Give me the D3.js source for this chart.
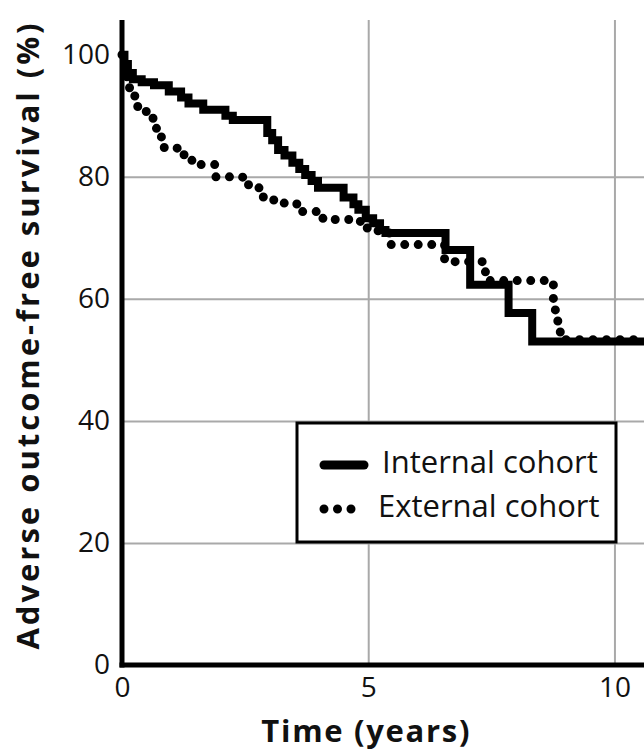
<!DOCTYPE html>
<html>
<head>
<meta charset="utf-8">
<script src="https://cdn.jsdelivr.net/npm/d3@7"></script>
<style>
  body { margin: 0; background: #fff; }
  svg { display: block; }
</style>
</head>
<body>
<script>
// Kaplan-Meier step values (time in years, survival in %)
const internalTime = [0, 0.05, 0.12, 0.22, 0.4, 0.65, 0.95, 1.2, 1.35, 1.65, 2.1, 2.25, 2.95, 3.05, 3.17, 3.3, 3.46, 3.6, 3.72, 3.85, 3.98, 4.5, 4.7, 4.8, 4.95, 5.1, 5.24, 5.35, 6.57, 7.07, 7.85, 8.33, 10.6];
const internalSurv = [100, 98.5, 97, 96, 95.5, 95, 94, 93, 92, 91, 90, 89.3, 87.2, 86, 84.4, 83.5, 82.3, 81.3, 80.3, 79.3, 78.2, 76.6, 75.5, 74.6, 73.2, 72.4, 71.3, 70.8, 68, 62.3, 57.7, 53, 53];

const externalTime = [0, 0.05, 0.1, 0.15, 0.26, 0.32, 0.45, 0.58, 0.63, 0.7, 0.8, 1.12, 1.26, 1.38, 1.42, 1.89, 2.45, 2.75, 2.8, 3.05, 3.1, 3.55, 4.08, 4.84, 4.98, 5.2, 5.45, 6.55, 7.38, 7.45, 8.76, 8.8, 8.85, 8.9, 10.6];
const externalSurv = [100, 98, 96, 94.6, 93, 91.5, 90.7, 89.8, 88.5, 86.6, 84.8, 84, 83.3, 82.8, 82, 80, 78.7, 78.2, 76.7, 76.2, 75.7, 74.3, 73, 72.1, 71.3, 70.8, 68.9, 66.1, 64.4, 63, 60, 57.9, 55.4, 53.3, 53.3];

const xTicks = [0, 5, 10];
const yTicks = [0, 20, 40, 60, 80, 100];
const xGrid = [5, 10];
const yGrid = [20, 40, 60, 80];
const seriesNames = ["Internal cohort", "External cohort"];
const xTitle = "Time (years)";
const yTitle = "Adverse outcome-free survival (%)";

const width = 644, height = 752;
const font = "'Open Sans', 'Noto Sans', sans-serif";

const x = d3.scaleLinear().domain([0, 10.6]).range([122, 644]);
const y = d3.scaleLinear().domain([0, 105.7]).range([665, 20]);

const svg = d3.select("body").append("svg")
  .attr("width", width)
  .attr("height", height)
  .attr("font-family", font);

// grid lines
svg.append("g")
  .attr("transform", `translate(0,${y(0)})`)
  .call(d3.axisBottom(x).tickValues(xGrid).tickSize(-(y(0) - y.range()[1])).tickFormat(""))
  .call(g => g.select(".domain").remove())
  .call(g => g.selectAll("line").attr("stroke", "#a9a9a9").attr("stroke-width", 2));

svg.append("g")
  .attr("transform", `translate(${x(0)},0)`)
  .call(d3.axisLeft(y).tickValues(yGrid).tickSize(-(x.range()[1] - x(0))).tickFormat(""))
  .call(g => g.select(".domain").remove())
  .call(g => g.selectAll("line").attr("stroke", "#a9a9a9").attr("stroke-width", 2));

// tick labels
svg.append("g")
  .attr("transform", `translate(0,${y(0)})`)
  .call(d3.axisBottom(x).tickValues(xTicks).tickSize(0).tickPadding(12).tickFormat(d3.format("d")))
  .call(g => g.select(".domain").remove())
  .call(g => g.selectAll("text").attr("font-size", 28).attr("font-family", font).attr("fill", "#111"));

svg.append("g")
  .attr("transform", `translate(${x(0) - 10},0)`)
  .call(d3.axisLeft(y).tickValues(yTicks).tickSize(0).tickPadding(2).tickFormat(d3.format("d")))
  .call(g => g.select(".domain").remove())
  .call(g => g.selectAll("text").attr("font-size", 28).attr("font-family", font).attr("fill", "#111"));

// curves
const line = (xs, ys) => d3.line()
  .x((d, i) => x(xs[i]))
  .y((d, i) => y(ys[i]))
  .curve(d3.curveStepAfter)(xs);

svg.append("path")
  .attr("d", line(internalTime, internalSurv))
  .attr("fill", "none")
  .attr("stroke", "#000")
  .attr("stroke-width", 8)
  .attr("stroke-linejoin", "miter");

svg.append("path")
  .attr("d", line(externalTime, externalSurv))
  .attr("fill", "none")
  .attr("stroke", "#000")
  .attr("stroke-width", 9)
  .attr("stroke-linecap", "round")
  .attr("stroke-dasharray", "0 13.5");

// axis lines
svg.append("line")
  .attr("x1", x(0)).attr("x2", x(0))
  .attr("y1", y.range()[1]).attr("y2", y(0) + 2.5)
  .attr("stroke", "#000").attr("stroke-width", 5);
svg.append("line")
  .attr("x1", x(0) - 2.5).attr("x2", x.range()[1])
  .attr("y1", y(0)).attr("y2", y(0))
  .attr("stroke", "#000").attr("stroke-width", 5);

// axis titles
svg.append("text")
  .attr("x", x(5) - 2)
  .attr("y", 742)
  .attr("text-anchor", "middle")
  .attr("font-size", 31)
  .attr("font-weight", "bold")
  .attr("letter-spacing", 1.7)
  .attr("fill", "#111")
  .text(xTitle);

svg.append("text")
  .attr("transform", `translate(39,${(20 + 650) / 2}) rotate(-90)`)
  .attr("text-anchor", "middle")
  .attr("font-size", 31)
  .attr("font-weight", "bold")
  .attr("letter-spacing", 3)
  .attr("fill", "#111")
  .text(yTitle);

// legend
const legend = svg.append("g");
legend.append("rect")
  .attr("x", 297).attr("y", 423)
  .attr("width", 319).attr("height", 119)
  .attr("fill", "#fff")
  .attr("stroke", "#000")
  .attr("stroke-width", 3);

const legendY = d3.scalePoint().domain(seriesNames).range([465, 509]);

legend.append("line")
  .attr("x1", 324).attr("x2", 364)
  .attr("y1", legendY(seriesNames[0])).attr("y2", legendY(seriesNames[0]))
  .attr("stroke", "#000").attr("stroke-width", 9).attr("stroke-linecap", "round");

legend.append("line")
  .attr("x1", 324).attr("x2", 364.5)
  .attr("y1", legendY(seriesNames[1])).attr("y2", legendY(seriesNames[1]))
  .attr("stroke", "#000").attr("stroke-width", 9).attr("stroke-linecap", "round")
  .attr("stroke-dasharray", "0 13.5");

legend.selectAll("text.lbl")
  .data(seriesNames)
  .join("text")
  .attr("class", "lbl")
  .attr("x", (d, i) => i === 0 ? 382 : 378)
  .attr("y", d => legendY(d) + 8)
  .attr("font-size", 31)
  .attr("fill", "#111")
  .text(d => d);
</script>
</body>
</html>
